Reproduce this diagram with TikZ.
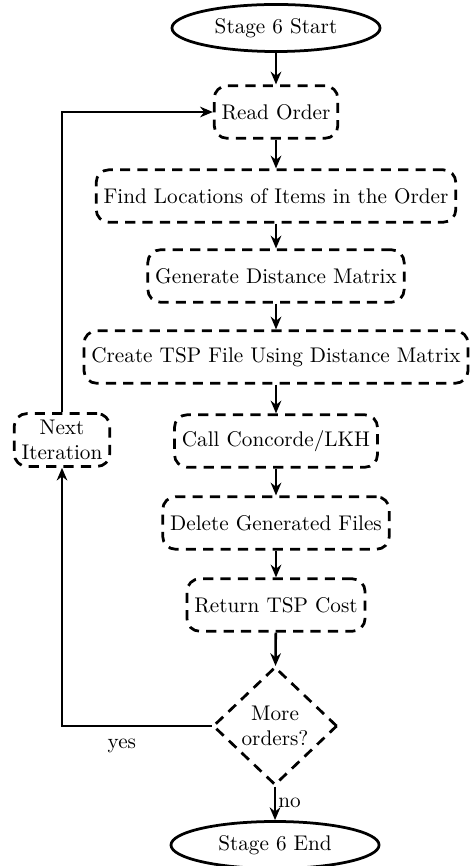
\documentclass[tikz,border=0pt]{standalone}
\usetikzlibrary{shapes.geometric,arrows.meta}
\tikzset{>={Stealth[length=6pt,width=5pt]}}
\tikzset{
    terminal/.style={ellipse,draw,line width=1.3pt,minimum width=3.45cm,minimum height=0.78cm,inner sep=0pt},
    process/.style={rectangle,rounded corners=6pt,draw,line width=1.3pt,dash pattern=on 4.8pt off 3.4pt,minimum height=0.87cm,inner xsep=3.5pt,inner ysep=3pt,align=center},
    decision/.style={diamond,draw,line width=1.3pt,dash pattern=on 4.8pt off 3.4pt,minimum width=2.06cm,minimum height=1.96cm,inner sep=0pt,align=center},
    flow/.style={->,line width=1.2pt}
}

\begin{document}
\begin{tikzpicture}
    \useasboundingbox (0,0) rectangle (7.776,-14.358);
    \node[terminal] (start) at (4.576,-0.464) {Stage 6 Start};
    \node[process] (read) at (4.576,-1.857) {Read Order};
    \node[process] (locate) at (4.576,-3.250) {Find Locations of Items in the Order};
    \node[process] (distmat) at (4.576,-4.576) {Generate Distance Matrix};
    \node[process] (tspfile) at (4.576,-5.919) {Create TSP File Using Distance Matrix};
    \node[process] (concorde) at (4.576,-7.312) {Call Concorde/LKH};
    \node[process] (cleanup) at (4.576,-8.671) {Delete Generated Files};
    \node[process] (cost) at (4.576,-10.031) {Return TSP Cost};
    \node[decision] (more) at (4.56,-12.037) {More\\orders?};
    \node[terminal] (stop) at (4.56,-14.01) {Stage 6 End};
    \node[process] (next) at (1.028,-7.295) {Next\\Iteration};
    \draw[flow] (start) -- (read);
    \draw[flow] (read) -- (locate);
    \draw[flow] (locate) -- (distmat);
    \draw[flow] (distmat) -- (tspfile);
    \draw[flow] (tspfile) -- (concorde);
    \draw[flow] (concorde) -- (cleanup);
    \draw[flow] (cleanup) -- (cost);
    \draw[flow] (cost) -- (more);
    \draw[flow] (more) -- node[right,inner sep=1pt] {no} (stop);
    \draw[flow] (more.west) -| node[pos=0.3,below=2pt] {yes} (next);
    \draw[flow] (next) |- (read);
\end{tikzpicture}
\end{document}
